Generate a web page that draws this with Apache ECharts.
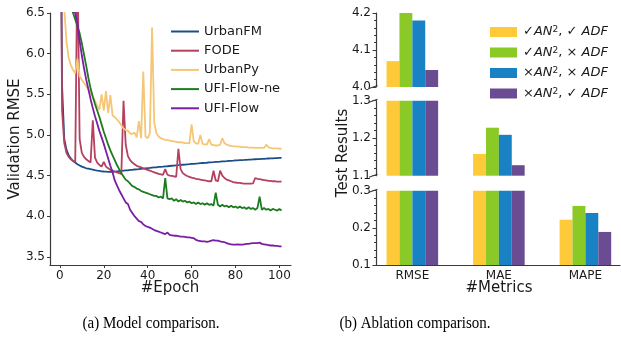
<!DOCTYPE html>
<html><head><meta charset="utf-8">
<script src="https://cdn.jsdelivr.net/npm/echarts@6/dist/echarts.min.js"></script>
<style>html,body{margin:0;padding:0;background:#fff}#c{width:621px;height:343px}</style>
</head><body><div id="c"></div><script>
// ---------- (a) Model comparison data ----------
const lineNames = ['UrbanFM', 'FODE', 'UrbanPy', 'UFI-Flow-ne', 'UFI-Flow'];
const lineColors = ['#1d4e89', '#b5405f', '#f5c676', '#1e7b20', '#7a1fa2'];
const epochTicks = [0, 20, 40, 60, 80, 100];
const rmseTicks = [3.5, 4.0, 4.5, 5.0, 5.5, 6.0, 6.5];

const urbanFM = [9.5,5.60,4.95,4.82,4.75,4.71,4.68,4.66,4.64,4.625,4.61,4.60,4.59,4.585,4.578,4.572,4.566,4.561,4.557,4.553,
4.550,4.548,4.546,4.545,4.546,4.548,4.551,4.553,4.557,4.560,4.563,4.565,4.569,4.571,4.575,4.577,4.580,4.584,4.585,4.589,
4.592,4.594,4.598,4.600,4.602,4.606,4.608,4.610,4.614,4.615,4.618,4.621,4.623,4.626,4.628,4.631,4.633,4.635,4.639,4.640,
4.643,4.645,4.648,4.649,4.652,4.655,4.656,4.658,4.662,4.663,4.665,4.668,4.669,4.671,4.674,4.675,4.677,4.680,4.681,4.683,
4.686,4.687,4.689,4.691,4.692,4.694,4.697,4.697,4.699,4.701,4.702,4.703,4.706,4.706,4.708,4.710,4.711,4.712,4.714,4.715,
4.717,4.718];
const fode = [9.5,5.30,4.90,4.78,4.73,4.70,4.68,4.67,7.20,4.95,4.78,4.73,4.70,4.68,4.66,5.18,4.72,4.66,4.63,4.61,
4.67,4.61,4.59,4.57,4.56,4.55,4.54,4.53,4.52,5.42,4.88,4.74,4.69,4.66,4.64,4.62,4.61,4.60,4.59,4.58,
4.57,4.56,4.55,4.54,4.53,4.52,4.515,4.51,4.58,4.51,4.50,4.495,4.49,4.485,4.83,4.58,4.53,4.51,4.495,4.485,
4.475,4.47,4.46,4.455,4.45,4.445,4.44,4.435,4.43,4.43,4.56,4.44,4.43,4.56,4.50,4.47,4.45,4.44,4.43,4.42,
4.415,4.41,4.41,4.405,4.40,4.40,4.40,4.40,4.405,4.47,4.46,4.455,4.45,4.445,4.44,4.435,4.435,4.43,4.43,4.425,
4.425,4.425];
const urbanPy = [9.5,7.6,6.55,6.15,5.95,5.86,5.80,5.76,5.94,5.72,5.68,5.64,5.60,5.56,5.52,5.47,5.42,5.36,5.31,5.50,
5.30,5.54,5.27,5.49,5.24,5.22,5.19,5.16,5.12,5.08,5.06,5.05,5.02,5.01,5.03,4.97,5.17,4.96,5.78,4.98,
4.96,5.02,6.32,5.15,5.02,4.98,4.96,4.95,4.94,4.935,4.93,4.925,4.92,4.915,4.91,4.91,4.905,4.90,4.90,4.895,
5.13,4.92,4.895,4.89,5.00,4.89,4.885,4.88,4.95,4.88,4.875,4.87,4.87,4.88,4.96,4.90,4.88,4.87,4.865,4.86,
4.86,4.855,4.855,4.85,4.85,4.85,4.845,4.845,4.845,4.84,4.84,4.84,4.84,4.84,4.88,4.85,4.84,4.835,4.835,4.835,
4.83,4.83];
const ufiFlowNe = [7.3,7.1,6.95,6.82,6.70,6.60,6.50,6.42,6.34,6.25,6.13,5.99,5.85,5.70,5.57,5.47,5.38,5.30,5.22,5.13,
5.04,4.96,4.88,4.81,4.75,4.69,4.63,4.58,4.53,4.49,4.45,4.43,4.40,4.37,4.36,4.34,4.33,4.31,4.30,4.29,
4.28,4.27,4.26,4.25,4.25,4.23,4.24,4.22,4.47,4.22,4.21,4.22,4.19,4.21,4.18,4.20,4.18,4.19,4.17,4.18,
4.16,4.17,4.15,4.17,4.15,4.16,4.14,4.16,4.14,4.15,4.13,4.29,4.14,4.12,4.14,4.12,4.13,4.11,4.13,4.11,
4.12,4.10,4.12,4.10,4.11,4.09,4.11,4.09,4.10,4.08,4.10,4.24,4.08,4.10,4.08,4.09,4.07,4.09,4.08,4.07,
4.09,4.07];
const ufiFlow = [7.5,7.25,7.05,6.88,6.74,6.62,6.52,6.50,6.36,6.16,5.98,5.82,5.68,5.56,5.44,5.33,5.23,5.14,5.05,4.97,
4.89,4.80,4.71,4.62,4.54,4.44,4.38,4.32,4.27,4.22,4.17,4.15,4.08,4.04,4.00,3.97,3.94,3.93,3.90,3.88,
3.87,3.86,3.845,3.83,3.82,3.81,3.80,3.79,3.78,3.80,3.77,3.765,3.76,3.76,3.755,3.75,3.75,3.745,3.74,3.74,
3.735,3.73,3.71,3.70,3.695,3.69,3.69,3.685,3.69,3.70,3.705,3.70,3.70,3.69,3.685,3.68,3.67,3.66,3.655,3.65,
3.65,3.655,3.65,3.65,3.655,3.66,3.66,3.665,3.67,3.67,3.67,3.675,3.66,3.655,3.65,3.645,3.64,3.64,3.635,3.635,
3.63,3.63];
const lineData = [urbanFM, fode, urbanPy, ufiFlowNe, ufiFlow];

// ---------- (b) Ablation comparison data ----------
const metrics = ['RMSE', 'MAE', 'MAPE'];
const anMark = ['✓', '✓', '×', '×'];
const adfMark = ['✓', '×', '×', '✓'];
const ablationNames = anMark.map((a, k) => a + 'AN², ' + adfMark[k] + ' ADF');
const ablationColors = ['#ffca3a', '#8ac926', '#1982c4', '#6a4c93'];
const anAdf = [4.07, 1.158, 0.222];
const anNoAdf = [4.20, 1.228, 0.259];
const noAnNoAdf = [4.18, 1.209, 0.240];
const noAnAdf = [4.046, 1.128, 0.189];
const ablationData = [anAdf, anNoAdf, noAnNoAdf, noAnAdf];
const panelRanges = [[4.0, 4.2], [1.1, 1.3], [0.1, 0.3]];

const FONT = 'DejaVu Sans';
const AX = '#3a3a3a';
const TXT = '#1a1a1a';

const chart = echarts.init(document.getElementById('c'), null, {renderer: 'canvas'});

const grids = [
  {left: 50, top: 13, width: 241, height: 252},
  {left: 376, top: 13, width: 244, height: 74},
  {left: 376, top: 100.7, width: 244, height: 75},
  {left: 376, top: 190.7, width: 244, height: 74.3}
].map(g => Object.assign({containLabel: false, outerBoundsMode: 'none'}, g));

const xAxes = [{
  type: 'value', gridIndex: 0, min: -4.5, max: 105.3,
  axisLine: {show: true, onZero: false, lineStyle: {color: AX, width: 1.2}},
  axisTick: {show: true, length: 3, customValues: epochTicks, lineStyle: {color: AX}},
  axisLabel: {customValues: epochTicks, color: TXT, fontFamily: FONT, fontSize: 12, margin: 5},
  splitLine: {show: false}
}];
const yAxes = [{
  type: 'value', gridIndex: 0, min: 3.4, max: 6.5,
  axisLine: {show: true, onZero: false, lineStyle: {color: AX, width: 1.2}},
  axisTick: {show: true, length: 3, customValues: rmseTicks, lineStyle: {color: AX}},
  axisLabel: {customValues: rmseTicks, color: TXT, fontFamily: FONT, fontSize: 12, margin: 5,
    formatter: v => Number(v).toFixed(1)},
  splitLine: {show: false}
}];
panelRanges.forEach((r, p) => {
  const last = p === panelRanges.length - 1;
  xAxes.push({
    type: 'value', gridIndex: p + 1, min: -0.42, max: 2.4,
    axisLine: {show: last, onZero: false, lineStyle: {color: AX, width: 1.2}},
    axisTick: {show: false},
    axisLabel: {show: last, customValues: [0, 1, 2], color: TXT, fontFamily: FONT, fontSize: 12, margin: 5,
      formatter: v => metrics[Math.round(v)]},
    splitLine: {show: false}
  });
  yAxes.push({
    type: 'value', gridIndex: p + 1, min: r[0], max: r[1], interval: 0.1,
    axisLine: {show: true, onZero: false, lineStyle: {color: AX, width: 1.2}},
    axisTick: {show: true, length: 3.5, lineStyle: {color: AX}},
    minorTick: {show: true, splitNumber: 5, length: 2, lineStyle: {color: AX}},
    axisLabel: {color: TXT, fontFamily: FONT, fontSize: 12, margin: 5, formatter: v => Number(v).toFixed(1)},
    splitLine: {show: false}, minorSplitLine: {show: false}
  });
});

const series = [];
lineData.forEach((arr, k) => {
  series.push({
    type: 'line', name: lineNames[k], xAxisIndex: 0, yAxisIndex: 0,
    data: arr.map((v, i) => [i, v]), showSymbol: false, symbol: 'none', clip: true,
    lineStyle: {color: lineColors[k], width: 1.8}, itemStyle: {color: lineColors[k]},
    z: 2 + k
  });
});
panelRanges.forEach((r, p) => {
  ablationData.forEach((vals, k) => {
    series.push({
      type: 'bar', name: ablationNames[k], xAxisIndex: p + 1, yAxisIndex: p + 1,
      barWidth: 12.9, barGap: '0%', clip: true,
      data: vals.map((v, i) => [i, v >= r[0] ? v : null]),
      itemStyle: {color: ablationColors[k]}
    });
  });
});

chart.setOption({
  animation: false,
  backgroundColor: '#fff',
  grid: grids, xAxis: xAxes, yAxis: yAxes, series: series,
  legend: [{
    data: lineNames, orient: 'vertical', left: 166, top: 20, itemWidth: 28, itemHeight: 2, itemGap: 6.2,
    icon: 'rect', selectedMode: false,
    textStyle: {fontFamily: FONT, fontSize: 13, color: TXT, padding: [0, 0, 0, 0]}
  }, {
    data: ablationNames, orient: 'vertical', left: 485, top: 20.5, itemWidth: 27, itemHeight: 10, itemGap: 7.5,
    icon: 'rect', selectedMode: false,
    formatter: name => {
      const k = ablationNames.indexOf(name);
      return '{m|' + anMark[k] + '}{i|AN}{s|2}{m|, ' + adfMark[k] + ' }{i|ADF}';
    },
    textStyle: {fontFamily: FONT, fontSize: 13, color: TXT, padding: [0, 0, 0, 1],
      rich: {
        m: {fontFamily: FONT, fontSize: 13, color: TXT},
        i: {fontFamily: FONT, fontSize: 13, fontStyle: 'italic', color: TXT},
        s: {fontFamily: FONT, fontSize: 9, color: TXT, verticalAlign: 'top', lineHeight: 9}
      }}
  }]
});

// text and broken-axis decorations
const gfx = [
  {type: 'text', x: 170, y: 288, style: {text: '#Epoch', font: '15px "DejaVu Sans"', fill: TXT, align: 'center', verticalAlign: 'middle'}},
  {type: 'text', x: 499, y: 288, style: {text: '#Metrics', font: '15px "DejaVu Sans"', fill: TXT, align: 'center', verticalAlign: 'middle'}},
  {type: 'text', x: 15, y: 139, rotation: Math.PI / 2, style: {text: 'Validation RMSE', font: '15px "DejaVu Sans"', fill: TXT, align: 'center', verticalAlign: 'middle'}},
  {type: 'text', x: 343, y: 153, rotation: Math.PI / 2, style: {text: 'Test Results', font: '15px "DejaVu Sans"', fill: TXT, align: 'center', verticalAlign: 'middle'}},
  {type: 'text', x: 151, y: 323, scaleY: 1.15, style: {text: '(a) Model comparison.', font: '15px "Liberation Serif"', fill: '#000', align: 'center', verticalAlign: 'middle'}},
  {type: 'text', x: 415, y: 323, scaleY: 1.15, style: {text: '(b) Ablation comparison.', font: '15px "Liberation Serif"', fill: '#000', align: 'center', verticalAlign: 'middle'}}
];
[[1, 4.0], [2, 1.3], [2, 1.1], [3, 0.3]].forEach(([ai, yv]) => {
  const pt = chart.convertToPixel({xAxisIndex: ai, yAxisIndex: ai}, [-0.42, yv]);
  gfx.push({type: 'line', shape: {x1: pt[0] - 7, y1: pt[1] + 1.5, x2: pt[0] + 1.5, y2: pt[1] - 1.5},
    style: {stroke: AX, lineWidth: 1.1}, z: 100});
});
chart.setOption({graphic: gfx});
</script></body></html>
